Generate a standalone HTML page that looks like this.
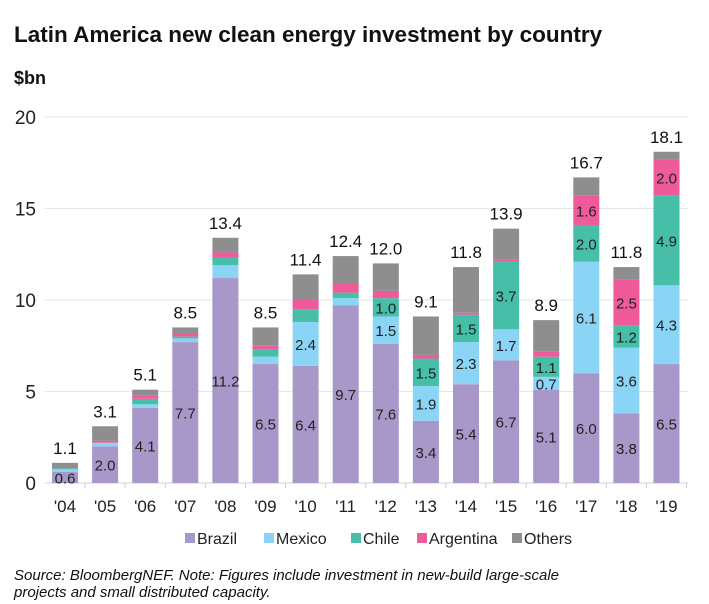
<!DOCTYPE html>
<html><head><meta charset="utf-8"><style>
body{margin:0;background:#fff;font-family:"Liberation Sans",sans-serif;}
#wrap{position:relative;width:709px;height:604px;overflow:hidden;}
</style></head><body><div id="wrap">
<svg id="svg" width="709" height="604" xmlns="http://www.w3.org/2000/svg">
<text x="14" y="42" font-size="22.5" font-weight="bold" fill="#111">Latin America new clean energy investment by country</text>
<text x="14" y="84" font-size="18" font-weight="bold" fill="#111">$bn</text>
<g id="grid"></g><g id="bars"></g>
<g id="legend" font-size="16" fill="#222"></g>
<text x="14" y="580" font-size="15" font-style="italic" fill="#111">Source: BloombergNEF. Note: Figures include investment in new-build large-scale</text>
<text x="14" y="597" font-size="15" font-style="italic" fill="#111">projects and small distributed capacity.</text>
</svg></div>
<script>
const years=["'04","'05","'06","'07","'08","'09","'10","'11","'12","'13","'14","'15","'16","'17","'18","'19"];
const brazil=[0.6,2.0,4.1,7.7,11.2,6.5,6.4,9.7,7.6,3.4,5.4,6.7,5.1,6.0,3.8,6.5];
const mexico=[0.15,0.2,0.2,0.2,0.7,0.4,2.4,0.4,1.5,1.9,2.3,1.7,0.7,6.1,3.6,4.3];
const chile=[0.05,0,0.3,0.1,0.4,0.4,0.7,0.3,1.0,1.5,1.5,3.7,1.1,2.0,1.2,4.9];
const argentina=[0,0.1,0.2,0.2,0.3,0.2,0.5,0.5,0.4,0.2,0.1,0.1,0.3,1.6,2.5,2.0];
const others=[0.3,0.8,0.3,0.3,0.8,1.0,1.4,1.5,1.5,2.1,2.5,1.7,1.7,1.0,0.7,0.4];
const totals=[1.1,3.1,5.1,8.5,13.4,8.5,11.4,12.4,12.0,9.1,11.8,13.9,8.9,16.7,11.8,18.1];
const yTicks=[0,5,10,15,20];
const seriesNames=["Brazil","Mexico","Chile","Argentina","Others"];
const colors=["#a898c9","#8ad5f5","#47bea7","#ef5a9b","#8e8e8e"];
const series=[brazil,mexico,chile,argentina,others];
const NS="http://www.w3.org/2000/svg";
const y0=483,pxu=18.3,x0=45,step=40.1,bw=26;
const Y=v=>y0-v*pxu, X=i=>x0+20+step*i;
function mk(t,a,p){const e=document.createElementNS(NS,t);for(const k in a)e.setAttribute(k,a[k]);p.appendChild(e);return e;}
const grid=document.getElementById('grid'),bars=document.getElementById('bars');
yTicks.forEach(t=>{
 const l=mk('line',{x1:x0,x2:688,y1:Y(t),y2:Y(t),stroke:t?'#e6e6e6':'#d0d0d0','stroke-width':1},grid);
 
 
 const tx=mk('text',{x:36,y:Y(t)+7,'font-size':19,'text-anchor':'end',fill:'#222'},grid);tx.textContent=t;
 
 
});
years.forEach((yr,i)=>{
 const tk=mk('line',{x1:X(i)+step/2,x2:X(i)+step/2,y1:y0,y2:y0+5,stroke:'#ccc'},grid);
 
 
 let acc=0;
 series.forEach((s,k)=>{
  const v=s[i];if(v<=0)return;
  const r=mk('rect',{x:X(i)-bw/2,y:Y(acc+v),width:bw,height:v*pxu,fill:colors[k]},bars);
  
  
  const show=(k==0)||(k<4&&v>=1.0)||(k==1&&i==12);
  if(show){const t=mk('text',{x:X(i),y:Y(acc+v/2)+6,'font-size':15,'text-anchor':'middle',fill:'#222'},bars);t.textContent=v.toFixed(1);
   
   }
  acc+=v;
 });
 const tt=mk('text',{x:X(i),y:Y(totals[i])-9,'font-size':17,'text-anchor':'middle',fill:'#111'},bars);tt.textContent=totals[i].toFixed(1);
 
 
 const xl=mk('text',{x:X(i),y:512,'font-size':17,'text-anchor':'middle',fill:'#222'},bars);xl.textContent=yr;
 
 
});
const lg=document.getElementById('legend');
const lx=[185,264,351,417,512];
seriesNames.forEach((n,k)=>{
 const r=mk('rect',{x:lx[k],y:533,width:10,height:10,fill:colors[k]},lg);
 
 
 const t=mk('text',{x:lx[k]+12,y:544},lg);t.textContent=n;
 
 
});
</script></body></html>
